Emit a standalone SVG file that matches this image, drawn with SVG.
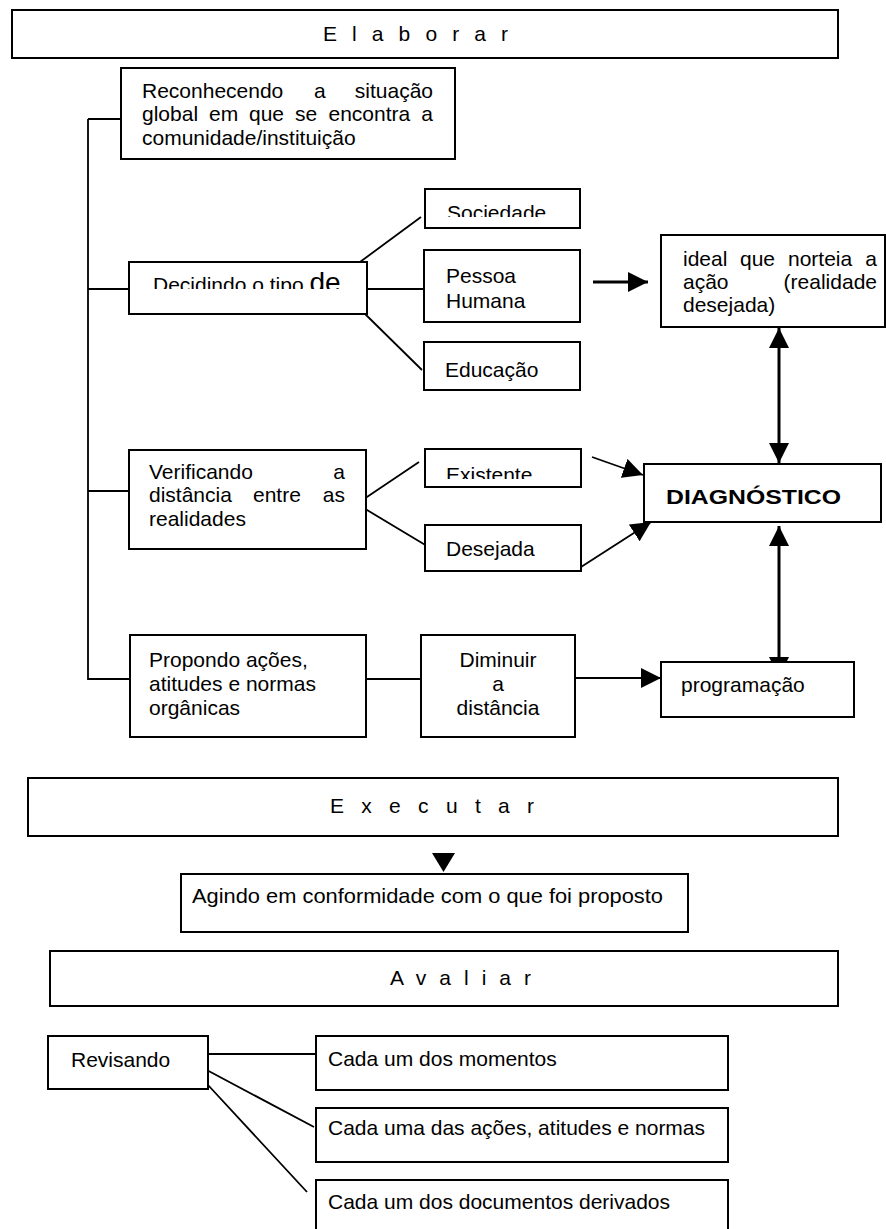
<svg xmlns="http://www.w3.org/2000/svg" width="886" height="1229" viewBox="0 0 886 1229">
<style>
.b{fill:#fff;stroke:#000;stroke-width:2}
.t{font-family:"Liberation Sans",Arial,sans-serif;font-size:21px;fill:#000}
.h{font-family:"Liberation Sans",Arial,sans-serif;font-size:21px;fill:#000}
.l{stroke:#000;stroke-width:1.8;fill:none}
.a{stroke:#000;stroke-width:3;fill:none}
</style>
<defs>
<marker id="ah" viewBox="0 0 10 10" refX="10" refY="5" markerWidth="20" markerHeight="20" markerUnits="userSpaceOnUse" orient="auto-start-reverse"><path d="M0,0L10,5L0,10z" fill="#000"/></marker>
<clipPath id="cDec"><rect x="130" y="263" width="236" height="26"/></clipPath>
<clipPath id="cSoc"><rect x="426" y="190" width="153" height="27"/></clipPath>
<clipPath id="cExi"><rect x="426" y="450" width="154" height="29"/></clipPath>
</defs>

<g id="connectors">
<path class="l" d="M88,119V680M88,119H130M88,289H129M88,491H129M88,679H130"/>
<path class="l" d="M360,262L421,217M367,289H424M361,310L422,370"/>
<path class="l" d="M358,503L419,462M362,507L427,546"/>
<path class="l" d="M366,679H421"/>
<path class="a" d="M593,282H648" marker-end="url(#ah)"/>
<path class="a" d="M779,328V463" marker-start="url(#ah)" marker-end="url(#ah)"/>
<path class="a" d="M779,526V677" marker-start="url(#ah)" marker-end="url(#ah)"/>
<path class="l" d="M592,457L643,475" marker-end="url(#ah)"/>
<path class="l" d="M581,567L651,522" marker-end="url(#ah)"/>
<path class="l" d="M575,678H661" marker-end="url(#ah)"/>
<path d="M432,853H455L443.5,872z" fill="#000"/>
<path class="l" d="M208,1054H316M203,1068L314,1127M208,1085L307,1192"/>
</g>

<g id="elaborar"><rect class="b" x="12" y="10" width="826" height="48"/>
<text class="h" x="323" y="41" textLength="185" lengthAdjust="spacing">E l a b o r a r</text></g>

<g id="reconhecendo"><rect class="b" x="121" y="68" width="334" height="91"/>
<text class="t" y="98"><tspan x="142">Reconhecendo</tspan><tspan x="314">a</tspan><tspan x="433" text-anchor="end">situação</tspan></text>
<text class="t" y="121"><tspan x="142">global</tspan><tspan x="209">em</tspan><tspan x="249">que</tspan><tspan x="295">se</tspan><tspan x="328.5">encontra</tspan><tspan x="433" text-anchor="end">a</tspan></text>
<text class="t" x="142" y="145">comunidade/instituição</text></g>

<g id="decidindo"><rect class="b" x="129" y="262" width="238" height="52"/>
<text class="t" x="153" y="292" clip-path="url(#cDec)">Decidindo o tipo <tspan font-size="28">de</tspan></text></g>

<g id="sociedade"><rect class="b" x="425" y="189" width="155" height="39"/>
<text class="t" x="447" y="220" clip-path="url(#cSoc)">Sociedade</text></g>

<g id="pessoa"><rect class="b" x="424" y="250" width="156" height="72"/>
<text class="t" x="446" y="283">Pessoa</text><text class="t" x="446" y="308">Humana</text></g>

<g id="educacao"><rect class="b" x="424" y="342" width="156" height="48"/>
<text class="t" x="445" y="377">Educação</text></g>

<g id="ideal"><rect class="b" x="661" y="235" width="224" height="92"/>
<text class="t" y="266"><tspan x="683">ideal</tspan><tspan x="740">que</tspan><tspan x="788">norteia</tspan><tspan x="877" text-anchor="end">a</tspan></text>
<text class="t" y="289"><tspan x="683">ação</tspan><tspan x="877" text-anchor="end">(realidade</tspan></text>
<text class="t" x="683" y="312">desejada)</text></g>

<g id="verificando"><rect class="b" x="129" y="450" width="237" height="99"/>
<text class="t" y="479"><tspan x="149">Verificando</tspan><tspan x="345" text-anchor="end">a</tspan></text>
<text class="t" y="502"><tspan x="149">distância</tspan><tspan x="253">entre</tspan><tspan x="345" text-anchor="end">as</tspan></text>
<text class="t" x="149" y="526">realidades</text></g>

<g id="existente"><rect class="b" x="425" y="449" width="156" height="38"/>
<text class="t" x="446" y="482" clip-path="url(#cExi)">Existente</text></g>

<g id="desejada"><rect class="b" x="425" y="525" width="156" height="46"/>
<text class="t" x="446" y="556">Desejada</text></g>

<g id="diagnostico"><rect class="b" x="644" y="464" width="237" height="58"/>
<text class="t" x="666" y="504" font-weight="bold" font-size="24" textLength="175" lengthAdjust="spacingAndGlyphs">DIAGNÓSTICO</text></g>

<g id="propondo"><rect class="b" x="130" y="635" width="236" height="102"/>
<text class="t" x="149" y="667">Propondo ações,</text>
<text class="t" x="149" y="691">atitudes e normas</text>
<text class="t" x="149" y="715">orgânicas</text></g>

<g id="diminuir"><rect class="b" x="421" y="635" width="154" height="102"/>
<text class="t" x="498" y="667" text-anchor="middle">Diminuir</text>
<text class="t" x="498" y="691" text-anchor="middle">a</text>
<text class="t" x="498" y="715" text-anchor="middle">distância</text></g>

<g id="programacao"><rect class="b" x="661" y="662" width="193" height="55"/>
<text class="t" x="681" y="692">programação</text></g>

<g id="executar"><rect class="b" x="28" y="778" width="810" height="58"/>
<text class="h" x="330" y="813" textLength="204" lengthAdjust="spacing">E x e c u t a r</text></g>

<g id="agindo"><rect class="b" x="181" y="874" width="507" height="58"/>
<text class="t" x="192" y="903" textLength="471" lengthAdjust="spacingAndGlyphs">Agindo em conformidade com o que foi proposto</text></g>

<g id="avaliar"><rect class="b" x="50" y="951" width="788" height="55"/>
<text class="h" x="390" y="985" textLength="141" lengthAdjust="spacing">A v a l i a r</text></g>

<g id="revisando"><rect class="b" x="48" y="1036" width="160" height="53"/>
<text class="t" x="71" y="1067">Revisando</text></g>

<g id="momentos"><rect class="b" x="316" y="1036" width="412" height="54"/>
<text class="t" x="328" y="1066" font-size="22">Cada um dos momentos</text></g>

<g id="acoes"><rect class="b" x="316" y="1108" width="412" height="54"/>
<text class="t" x="328" y="1135" font-size="19.2">Cada uma das ações, atitudes e normas</text></g>

<g id="documentos"><rect class="b" x="316" y="1180" width="412" height="60"/>
<text class="t" x="328" y="1209" font-size="21.8">Cada um dos documentos derivados</text></g>
</svg>
